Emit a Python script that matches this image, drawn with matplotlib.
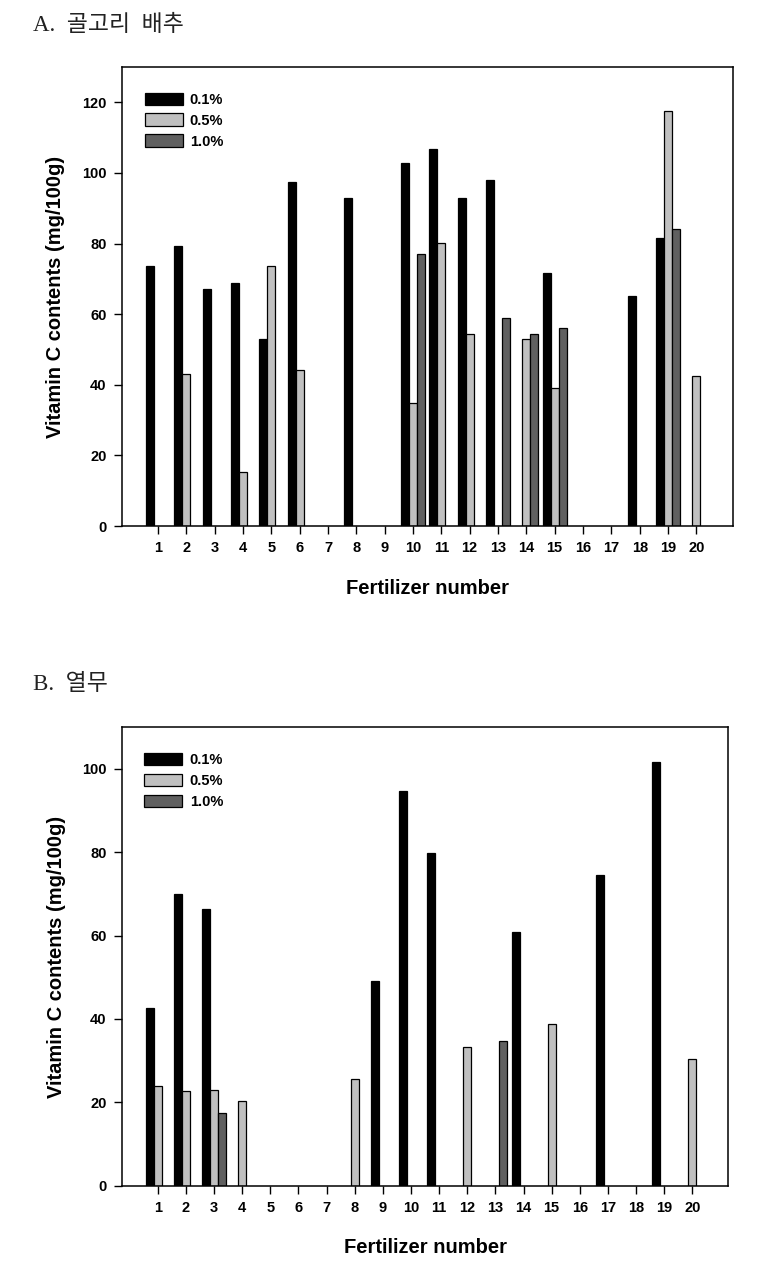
import numpy as np
import matplotlib
matplotlib.use("Agg")
import matplotlib.pyplot as plt

plt.rcParams['font.family'] = ['Liberation Sans', 'Noto Sans CJK KR']

fert = list(range(1, 21))
tick_labels = [str(i) for i in fert]
series_names = ['0.1%', '0.5%', '1.0%']
colors = ['#000000', '#c0c0c0', '#606060']

nan = np.nan
# Panel A: 골고리 배추
a_01 = [73.5, 79.3, 67.0, 68.9, 52.9, 97.5, nan, 93.0, nan, 102.9,
        106.7, 93.0, 97.9, nan, 71.6, nan, nan, 65.1, 81.5, nan]
a_05 = [nan, 43.0, nan, 15.4, 73.5, 44.1, nan, nan, nan, 34.9,
        80.1, 54.3, nan, 52.9, 39.0, nan, nan, nan, 117.4, 42.5]
a_10 = [nan, nan, nan, nan, nan, nan, nan, nan, nan, 77.1,
        nan, nan, 58.9, 54.3, 56.2, nan, nan, nan, 84.0, nan]
# Panel B: 열무
b_01 = [42.7, 70.1, 66.5, nan, nan, nan, nan, nan, 49.1, 94.6,
        79.8, nan, nan, 60.8, nan, nan, 74.6, nan, 101.7, nan]
b_05 = [23.9, 22.7, 22.9, 20.3, nan, nan, nan, 25.5, nan, nan,
        nan, 33.2, nan, nan, 38.8, nan, nan, nan, nan, 30.3]
b_10 = [nan, nan, 17.4, nan, nan, nan, nan, nan, nan, nan,
        nan, nan, 34.8, nan, nan, nan, nan, nan, nan, nan]

panels = [
    dict(title='A.  골고리  배추', data=[a_01, a_05, a_10], ylim=130, yticks=np.arange(0, 121, 20),
         rect=[0.158, 0.5868, 0.7935, 0.3606], title_y=1 - 25 / 1273),
    dict(title='B.  열무', data=[b_01, b_05, b_10], ylim=110, yticks=np.arange(0, 101, 20),
         rect=[0.158, 0.0686, 0.7880, 0.3601], title_y=1 - 684 / 1273),
]

fig = plt.figure(figsize=(7.7, 12.73), dpi=100)
x = np.array(fert, dtype=float)
w = 0.28
for p in panels:
    ax = fig.add_axes(p['rect'])
    for k, (vals, c, name) in enumerate(zip(p['data'], colors, series_names)):
        v = np.array(vals, dtype=float)
        m = ~np.isnan(v)
        ax.bar(x[m] + (k - 1) * w, v[m], width=w, color=c, edgecolor='black',
               linewidth=0.9, label=name)
    ax.set_xlim(-0.28, 21.28)
    ax.set_ylim(0, p['ylim'])
    ax.set_xticks(x)
    ax.set_xticklabels(tick_labels)
    ax.set_yticks(p['yticks'])
    ax.tick_params(axis='both', direction='out', length=6, width=1, labelsize=10.5, pad=5)
    for lab in ax.get_xticklabels() + ax.get_yticklabels():
        lab.set_fontweight('bold')
    for s in ax.spines.values():
        s.set_linewidth(1.1)
    ax.set_ylabel('Vitamin C contents (mg/100g)', fontsize=14.5, fontweight='bold')
    ax.set_xlabel('Fertilizer number', fontsize=14.5, fontweight='bold')
    ax.yaxis.set_label_coords(-0.092, 0.5)
    ax.xaxis.set_label_coords(0.5, -0.115)
    ax.legend(loc='upper left', bbox_to_anchor=(0.028, 0.957), frameon=False,
              handlelength=2.6, handleheight=0.95, labelspacing=0.45,
              handletextpad=0.5, borderaxespad=0,
              prop=dict(family=['Liberation Sans'], weight='bold', size=10.5))
    fig.text(33 / 770, p['title_y'], p['title'], fontsize=16.5, va='center', ha='left',
             family=['Liberation Serif', 'Noto Sans CJK KR'], color='#222222')

fig.savefig('out.png', dpi=100)
